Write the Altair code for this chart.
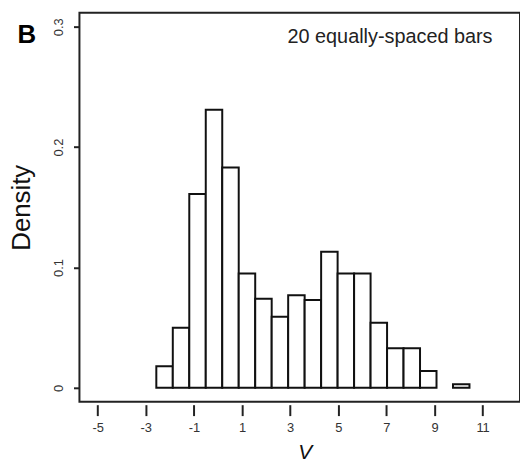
import altair as alt
import pandas as pd

# Histogram: 19 bin intervals (one empty)
bin_start = -2.56
bin_width = 0.685
density = [0.018, 0.050, 0.161, 0.231, 0.183, 0.095, 0.074, 0.059, 0.077, 0.073,
           0.113, 0.095, 0.095, 0.054, 0.033, 0.033, 0.014, 0.0, 0.003]
x_ticks = [-5, -3, -1, 1, 3, 5, 7, 9, 11]
y_ticks = [0, 0.1, 0.2, 0.3]

lefts = [bin_start + i * bin_width for i in range(len(density))]
rights = [l + bin_width for l in lefts]
df = pd.DataFrame({"left": lefts, "right": rights, "density": density, "base": [0.0] * len(density)})

FONT = "Liberation Sans"
xscale = alt.Scale(domain=[-5.755, 12.555], nice=False, zero=False)
yscale = alt.Scale(domain=[-0.0115, 0.3116], nice=False, zero=False)

bars = alt.Chart(df).transform_filter("datum.density > 0").mark_rect(
    fill="white", stroke="#111", strokeWidth=2
).encode(
    x=alt.X("left:Q", scale=xscale, axis=alt.Axis(
        values=x_ticks, title="V", domain=False, offset=3, tickSize=11,
        tickColor="#222", tickWidth=2, labelPadding=6, labelFont=FONT, labelFontSize=13,
        labelColor="#333", labelExpr="'' + datum.value", grid=False,
        titleFont=FONT, titleFontSize=21,
        titleFontStyle="italic", titleFontWeight="normal", titleColor="#111",
        titleX=227, titleY=48, titleBaseline="middle")),
    x2="right:Q",
    y=alt.Y("density:Q", scale=yscale, axis=alt.Axis(
        values=y_ticks, title="Density", domain=False, tickSize=6, tickColor="#222",
        tickWidth=2, labelAngle=-90, labelAlign="center", labelBaseline="bottom",
        labelPadding=8, labelFont=FONT, labelFontSize=13, labelColor="#333",
        labelExpr="datum.value == 0 ? '0' : format(datum.value, '.1f')",
        grid=False, titleFont=FONT, titleFontSize=26, titleFontWeight="normal",
        titleColor="#111", titleAngle=-90, titleX=-58, titleY=196,
        titleAlign="center", titleBaseline="middle")),
    y2="base:Q",
)

note = alt.Chart(pd.DataFrame({"t": ["20 equally-spaced bars"]})).mark_text(
    font=FONT, fontSize=20, color="#222", align="center", baseline="middle"
).encode(x=alt.value(313), y=alt.value(24), text="t:N")

label_b = alt.Chart(pd.DataFrame({"t": ["B"]})).mark_text(
    font=FONT, fontSize=26, fontWeight="bold", color="#000", align="center",
    baseline="middle"
).encode(x=alt.value(-53), y=alt.value(22), text="t:N")

chart = alt.layer(bars, note, label_b).properties(
    width=444, height=392,
    autosize=alt.AutoSizeParams(type="none"),
    padding={"left": 72, "top": 3, "right": 0, "bottom": 62},
    background="white",
).configure_view(stroke="#222", strokeWidth=2)

chart.save("out.html", embed_options={"renderer": "svg", "actions": False})
